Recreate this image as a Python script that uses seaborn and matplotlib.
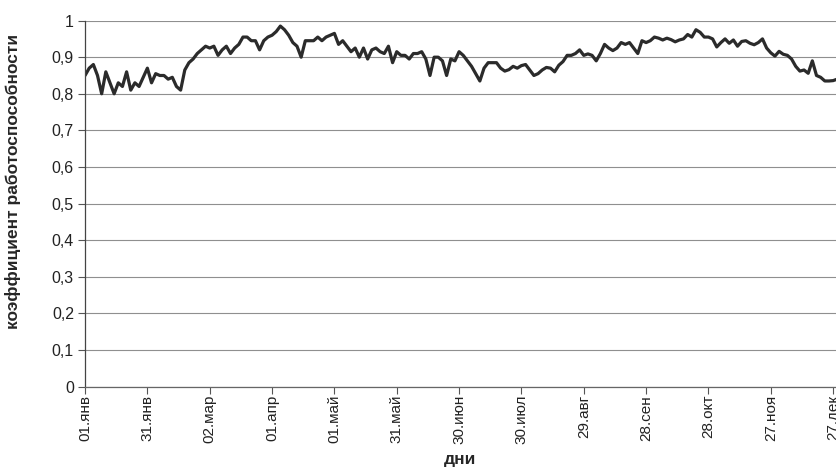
#!/usr/bin/env python3
"""Годовой ход коэффициента работоспособности (по дням)."""

import matplotlib
matplotlib.use("Agg")
import matplotlib.pyplot as plt
import numpy as np
import seaborn as sns

# значения снимались с графика через каждые 2 дня, начиная с 01.янв
coef = [
    0.85, 0.87, 0.88, 0.85, 0.80, 0.86, 0.83, 0.80, 0.83, 0.82,
    0.86, 0.81, 0.83, 0.82, 0.845, 0.87, 0.83, 0.855, 0.85, 0.85,
    0.84, 0.845, 0.82, 0.81, 0.865, 0.885, 0.895,
    0.91, 0.92, 0.93, 0.925, 0.93, 0.905, 0.92, 0.93, 0.91, 0.925,
    0.935, 0.955, 0.955, 0.945, 0.945, 0.92, 0.945, 0.955, 0.96, 0.97,
    0.985, 0.975, 0.96, 0.94, 0.93, 0.90,
    0.945, 0.945, 0.945, 0.955, 0.945, 0.955, 0.96, 0.965, 0.935, 0.945,
    0.93, 0.915, 0.925, 0.90, 0.925, 0.895, 0.92, 0.925, 0.915, 0.91,
    0.93, 0.885, 0.915, 0.905, 0.905,
    0.895, 0.91, 0.91, 0.915, 0.895, 0.85, 0.90, 0.90, 0.89, 0.85,
    0.895, 0.89, 0.915, 0.905, 0.89, 0.875, 0.855, 0.835, 0.87, 0.885,
    0.885, 0.885, 0.87, 0.862, 0.866,
    0.875, 0.87, 0.877, 0.88, 0.865, 0.85, 0.855, 0.865, 0.872, 0.87,
    0.86, 0.878, 0.888, 0.905, 0.905, 0.91, 0.92, 0.905, 0.909, 0.905,
    0.89, 0.91, 0.935, 0.925, 0.918,
    0.925, 0.94, 0.935, 0.94, 0.925, 0.91, 0.945, 0.94, 0.945, 0.955,
    0.952, 0.947, 0.952, 0.948, 0.942, 0.947, 0.95, 0.962, 0.955, 0.975,
    0.968, 0.955, 0.955, 0.95, 0.928,
    0.94, 0.95, 0.938, 0.947, 0.93, 0.943, 0.945, 0.938, 0.934, 0.94,
    0.95, 0.925, 0.912, 0.903, 0.916, 0.908, 0.905, 0.895, 0.875, 0.862,
    0.865, 0.856, 0.89, 0.85, 0.845, 0.835, 0.835, 0.836, 0.84, 0.83,
]
days = np.arange(0, 2 * len(coef), 2)

tick_days = [0, 30, 60, 90, 120, 150, 180, 210, 240, 270, 300, 330, 360]
tick_labels = ["01.янв", "31.янв", "02.мар", "01.апр", "01.май", "31.май",
               "30.июн", "30.июл", "29.авг", "28.сен", "28.окт", "27.ноя",
               "27.дек"]
y_ticks = [0, 0.1, 0.2, 0.3, 0.4, 0.5, 0.6, 0.7, 0.8, 0.9, 1.0]
y_labels = ["0", "0,1", "0,2", "0,3", "0,4", "0,5", "0,6", "0,7", "0,8",
            "0,9", "1"]

sns.set_theme(style="ticks")
plt.rcParams["font.family"] = ["Liberation Sans", "DejaVu Sans"]

fig = plt.figure(figsize=(8.37, 4.68), dpi=100)
ax = fig.add_axes([0.1016, 0.174, 0.9037, 0.782])

sns.lineplot(x=days, y=coef, ax=ax, color="#2b2b2b", linewidth=2.3)

ax.set_xlim(0, 364)
ax.set_ylim(0, 1)
ax.set_xticks(tick_days)
ax.set_xticklabels(tick_labels, rotation=90, fontsize=11, color="#222222")
ax.set_yticks(y_ticks)
ax.set_yticklabels(y_labels, fontsize=11.5, color="#222222")
ax.tick_params(axis="both", direction="out", length=5, width=0.8,
               color="#555555", pad=3)
ax.tick_params(axis="x", pad=1)

ax.yaxis.grid(True, color="#8f8f8f", linewidth=0.8)
ax.xaxis.grid(False)
ax.set_axisbelow(True)

for side in ("top", "right"):
    ax.spines[side].set_visible(False)
ax.spines["left"].set_color("#444444")
ax.spines["bottom"].set_color("#666666")
ax.spines["left"].set_linewidth(0.9)
ax.spines["bottom"].set_linewidth(0.9)

ax.set_xlabel("дни", fontsize=12.5, fontweight="bold")
ax.set_ylabel("коэффициент работоспособности", fontsize=12.5,
              fontweight="bold")
ax.xaxis.set_label_coords(0.496, -0.178)
ax.yaxis.set_label_coords(-0.085, 0.561)

fig.savefig("out.png", dpi=100)
plt.close(fig)
